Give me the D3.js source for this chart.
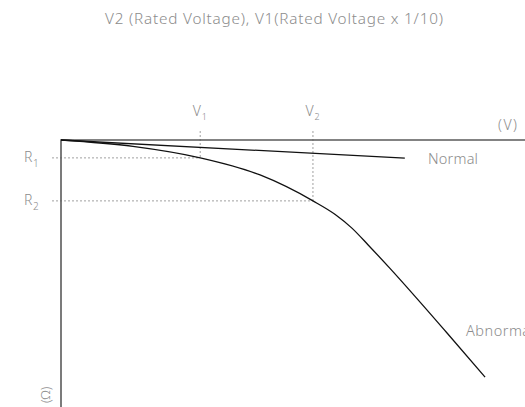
<!DOCTYPE html>
<html>
<head>
<meta charset="utf-8">
<script src="https://cdn.jsdelivr.net/npm/d3@7"></script>
<style>
  html, body { margin: 0; padding: 0; background: #fff; }
  svg { display: block; }
  text { font-family: "Noto Sans", sans-serif; fill: #8c8c8c; font-weight: 300; }
</style>
</head>
<body>
<svg id="chart" width="525" height="407"></svg>
<script>
// Voltage (x) vs resistance drop (y), arbitrary units
const normalX = [0, 74.1];
const normalY = [0, 6.8];
const abnormalX = [0, 15.5, 30, 42.9, 54.3, 59.1, 62.7, 66.2, 70.9, 83.2, 91.4];
const abnormalY = [0, 2.4, 6.7, 13.1, 22.8, 27.9, 33.0, 39.3, 48.1, 72.3, 88.8];
const markerV = [{ name: "V", sub: "1", x: 30, y: 6.7 }, { name: "V", sub: "2", x: 54.3, y: 22.8 }];
const markerR = [{ name: "R", sub: "1", y: 6.7, x: 30 }, { name: "R", sub: "2", y: 22.8, x: 54.3 }];
const titleText = "V2 (Rated Voltage), V1(Rated Voltage x 1/10)";

const svg = d3.select("#chart");
const x = d3.scaleLinear().domain([0, 100]).range([61, 525]);
const y = d3.scaleLinear().domain([0, 100]).range([140, 407]);

// title
svg.append("text").attr("x", 105).attr("y", 24)
  .attr("textLength", 338).attr("lengthAdjust", "spacing")
  .style("font-size", "15.3px").text(titleText);

// reference guides
markerV.forEach(d => {
  svg.append("line").attr("x1", x(d.x)).attr("x2", x(d.x))
    .attr("y1", y(0) - 9).attr("y2", y(d.y))
    .attr("stroke", "#a0a0a0").attr("stroke-width", 1).attr("stroke-dasharray", "2,2");
  const t = svg.append("text").attr("x", x(d.x) - 7.5).attr("y", 116)
    .style("font-size", "14px");
  t.append("tspan").text(d.name);
  t.append("tspan").attr("dx", 1).attr("dy", 4).style("font-size", "9px").text(d.sub);
});
markerR.forEach(d => {
  svg.append("line").attr("x1", 52).attr("x2", x(d.x))
    .attr("y1", y(d.y)).attr("y2", y(d.y))
    .attr("stroke", "#a0a0a0").attr("stroke-width", 1).attr("stroke-dasharray", "2,2");
  const t = svg.append("text").attr("x", 24).attr("y", y(d.y) + 4.5)
    .style("font-size", "14px");
  t.append("tspan").text(d.name);
  t.append("tspan").attr("dx", 0.5).attr("dy", 5).style("font-size", "10px").text(d.sub);
});

// axes
svg.append("line").attr("x1", x(0)).attr("x2", x(100)).attr("y1", y(0)).attr("y2", y(0))
  .attr("stroke", "#5a5a5a").attr("stroke-width", 1.6);
svg.append("line").attr("x1", x(0)).attr("x2", x(0)).attr("y1", y(0) - 0.8).attr("y2", y(100))
  .attr("stroke", "#5a5a5a").attr("stroke-width", 1.6);
svg.append("text").attr("x", 498).attr("y", 130).attr("textLength", 19).attr("lengthAdjust", "spacing")
  .style("font-size", "14px").text("(V)");
svg.append("text").attr("transform", "translate(50,403) rotate(-90)")
  .style("font-size", "13px").text("(Ω)");

// curves
const line = d3.line().x(d => x(d[0])).y(d => y(d[1])).curve(d3.curveMonotoneX);
svg.append("path").datum(d3.zip(normalX, normalY)).attr("d", line)
  .attr("fill", "none").attr("stroke", "#111").attr("stroke-width", 1.3);
svg.append("path").datum(d3.zip(abnormalX, abnormalY)).attr("d", line)
  .attr("fill", "none").attr("stroke", "#111").attr("stroke-width", 1.3);

svg.append("text").attr("x", 428).attr("y", 164).attr("textLength", 50).attr("lengthAdjust", "spacing")
  .style("font-size", "14.5px").text("Normal");
svg.append("text").attr("x", 466).attr("y", 336).attr("textLength", 68).attr("lengthAdjust", "spacing")
  .style("font-size", "14.5px").text("Abnormal");
</script>
</body>
</html>
